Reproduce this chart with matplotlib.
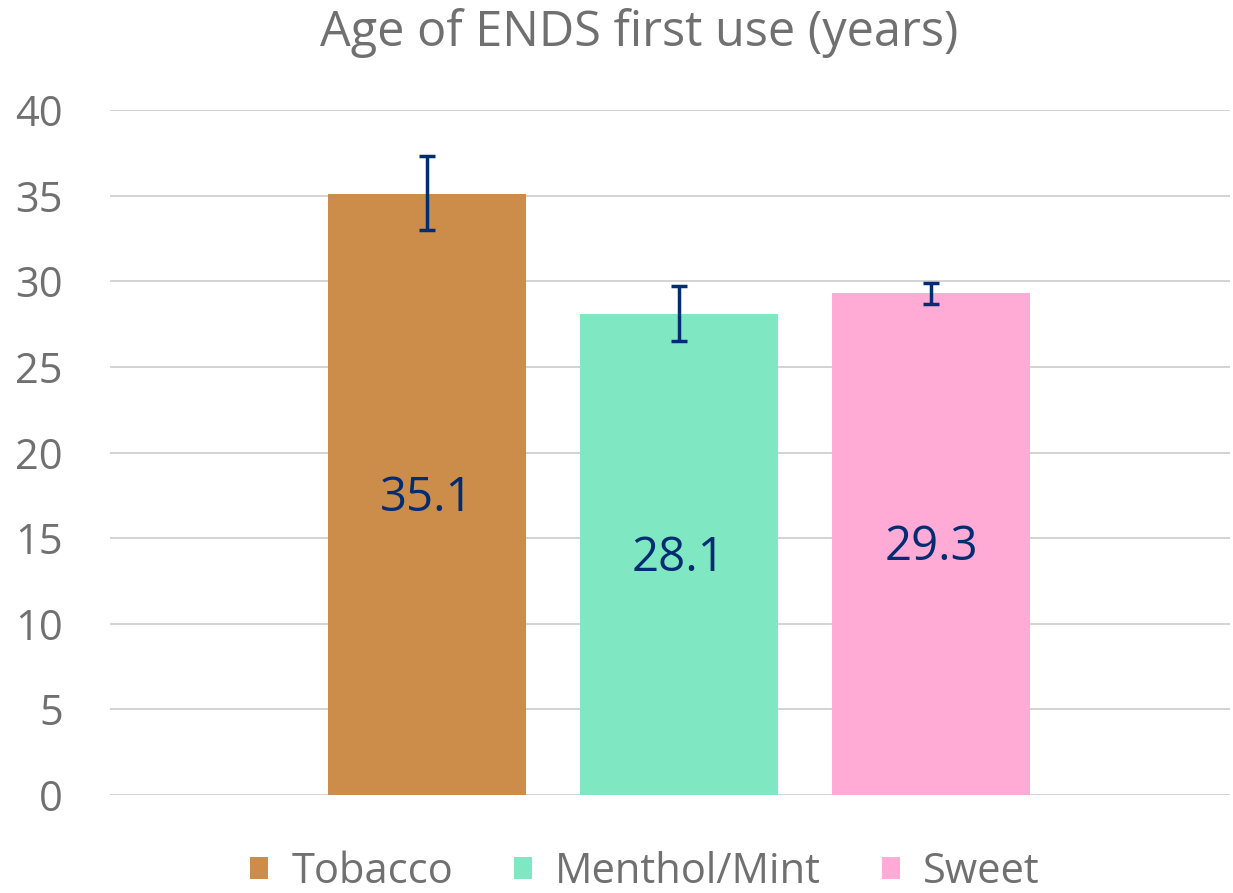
import numpy as np
import matplotlib.pyplot as plt

flavours = ['Tobacco', 'Menthol/Mint', 'Sweet']
age_mean = [35.1, 28.1, 29.3]
err_low = [33.0, 26.5, 28.7]
err_high = [37.3, 29.7, 29.9]
colors = ['#CC8C4A', '#7FE7C1', '#FFABD6']

navy = '#002D72'
gray = '#707070'

plt.rcParams['font.family'] = ['Open Sans', 'DejaVu Sans']

fig = plt.figure(figsize=(12.33, 8.93), dpi=100)
ax = fig.add_axes([0.0892, 0.1097, 0.9084, 0.7671])

x = np.arange(len(flavours))
lo = np.array(age_mean) - np.array(err_low)
hi = np.array(err_high) - np.array(age_mean)
bars = ax.bar(x, age_mean, width=0.786, color=colors, label=flavours, zorder=2)
ax.errorbar(x, age_mean, yerr=[lo, hi], fmt='none', ecolor=navy,
            elinewidth=2.5, capsize=6, capthick=2.5, zorder=3)

for xi, v in zip(x, age_mean):
    ax.text(xi, v / 2 - 0.2, f'{v:.1f}', ha='center', va='center',
            fontsize=34, color=navy, zorder=4)

ax.set_xlim(-1.258, 3.187)
ax.set_ylim(0, 40)
ax.set_yticks(range(0, 41, 5))
ax.set_xticks([])
ax.yaxis.grid(True, color='#D0D0D0', linewidth=1.3, zorder=0)
ax.set_axisbelow(True)
for s in ax.spines.values():
    s.set_visible(False)
ax.tick_params(axis='y', length=0, labelsize=30, labelcolor=gray, pad=34)

fig.text(0.518, 0.963, 'Age of ENDS first use (years)', ha='center', va='center',
         fontsize=35, color=gray)

leg = fig.legend(handles=bars, labels=flavours, loc='center', bbox_to_anchor=(0.523, 0.024),
                 ncol=3, frameon=False, fontsize=30, handlelength=0.45, handleheight=0.45,
                 handletextpad=0.55, columnspacing=1.45, borderpad=0.1)
for t in leg.get_texts():
    t.set_color(gray)

fig.savefig('out.png', dpi=100)
